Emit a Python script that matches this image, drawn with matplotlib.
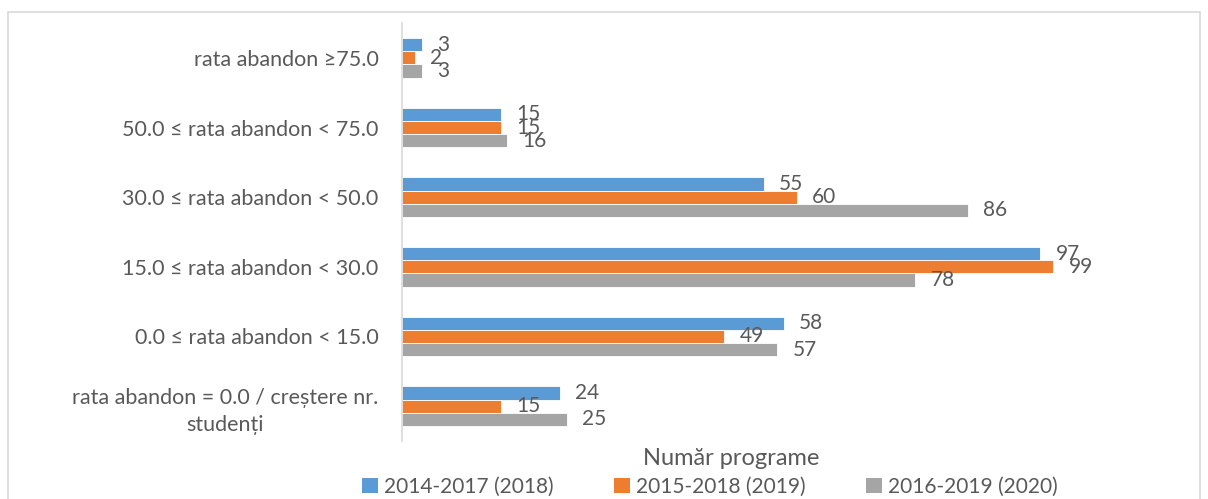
import matplotlib
matplotlib.use("Agg")
from matplotlib import pyplot as plt
from matplotlib.patches import Patch, Rectangle
import numpy as np

# categorii (de sus in jos)
categorii = [
    "rata abandon \u226575.0",
    "50.0 \u2264 rata abandon < 75.0",
    "30.0 \u2264 rata abandon < 50.0",
    "15.0 \u2264 rata abandon < 30.0",
    "0.0 \u2264 rata abandon < 15.0",
    "rata abandon = 0.0 / cre\u0219tere nr.\nstuden\u021bi",
]
serii = ["2014-2017 (2018)", "2015-2018 (2019)", "2016-2019 (2020)"]
v2018 = [3, 15, 55, 97, 58, 24]
v2019 = [2, 15, 60, 99, 49, 15]
v2020 = [3, 16, 86, 78, 57, 25]
culori = ["#5B9BD5", "#ED7D31", "#A5A5A5"]

plt.rcParams['font.family'] = ['Lato', 'DejaVu Sans']
txt = "#595959"
fs = 15

fig = plt.figure(figsize=(12.08, 4.99), dpi=100)
ax = fig.add_axes([402/1208, 1 - 441/499, 658/1208, 418/499])

# chenar
fig.patches.append(Rectangle((8/1208, -0.01), 1192/1208, 1 - 12/499 + 0.01,
                             transform=fig.transFigure, fill=False,
                             edgecolor="#D9D9D9", linewidth=1.2))

y = np.arange(len(categorii))
h = 0.19
for k, (vals, c) in enumerate(zip([v2018, v2019, v2020], culori)):
    pos = y + (k - 1) * h
    ax.barh(pos, vals, height=h, color=c, edgecolor="white", linewidth=0.6)
    for p, v in zip(pos, vals):
        ax.annotate(str(v), (v, p), xytext=(11, 0), textcoords="offset points",
                    va="center", ha="left", fontsize=fs, color=txt,
                    annotation_clip=False)

ax.set_xlim(0, 100)
ax.set_ylim(len(categorii) - 0.5, -0.5)
ax.set_yticks(y)
ax.set_yticklabels(categorii, fontsize=15.5, color=txt)
for lab in ax.get_yticklabels():
    lab.set_multialignment("center")
    lab.set_linespacing(1.4)
ax.tick_params(axis="y", length=0, pad=17)
ax.set_xticks([])
for s in ["top", "right", "bottom"]:
    ax.spines[s].set_visible(False)
ax.spines["left"].set_color("#D9D9D9")
ax.spines["left"].set_linewidth(1.2)

ax.set_xlabel("Num\u0103r programe", fontsize=17, color=txt, labelpad=5)

handles = [Patch(facecolor=c, edgecolor="none") for c in culori]
fig.legend(handles, serii, loc="center", bbox_to_anchor=(710/1208, 12/499),
           ncol=3, frameon=False, fontsize=fs, labelcolor=txt,
           handlelength=0.75, handleheight=0.75, handletextpad=0.3,
           columnspacing=2.9)

fig.savefig("out.png", dpi=100)
